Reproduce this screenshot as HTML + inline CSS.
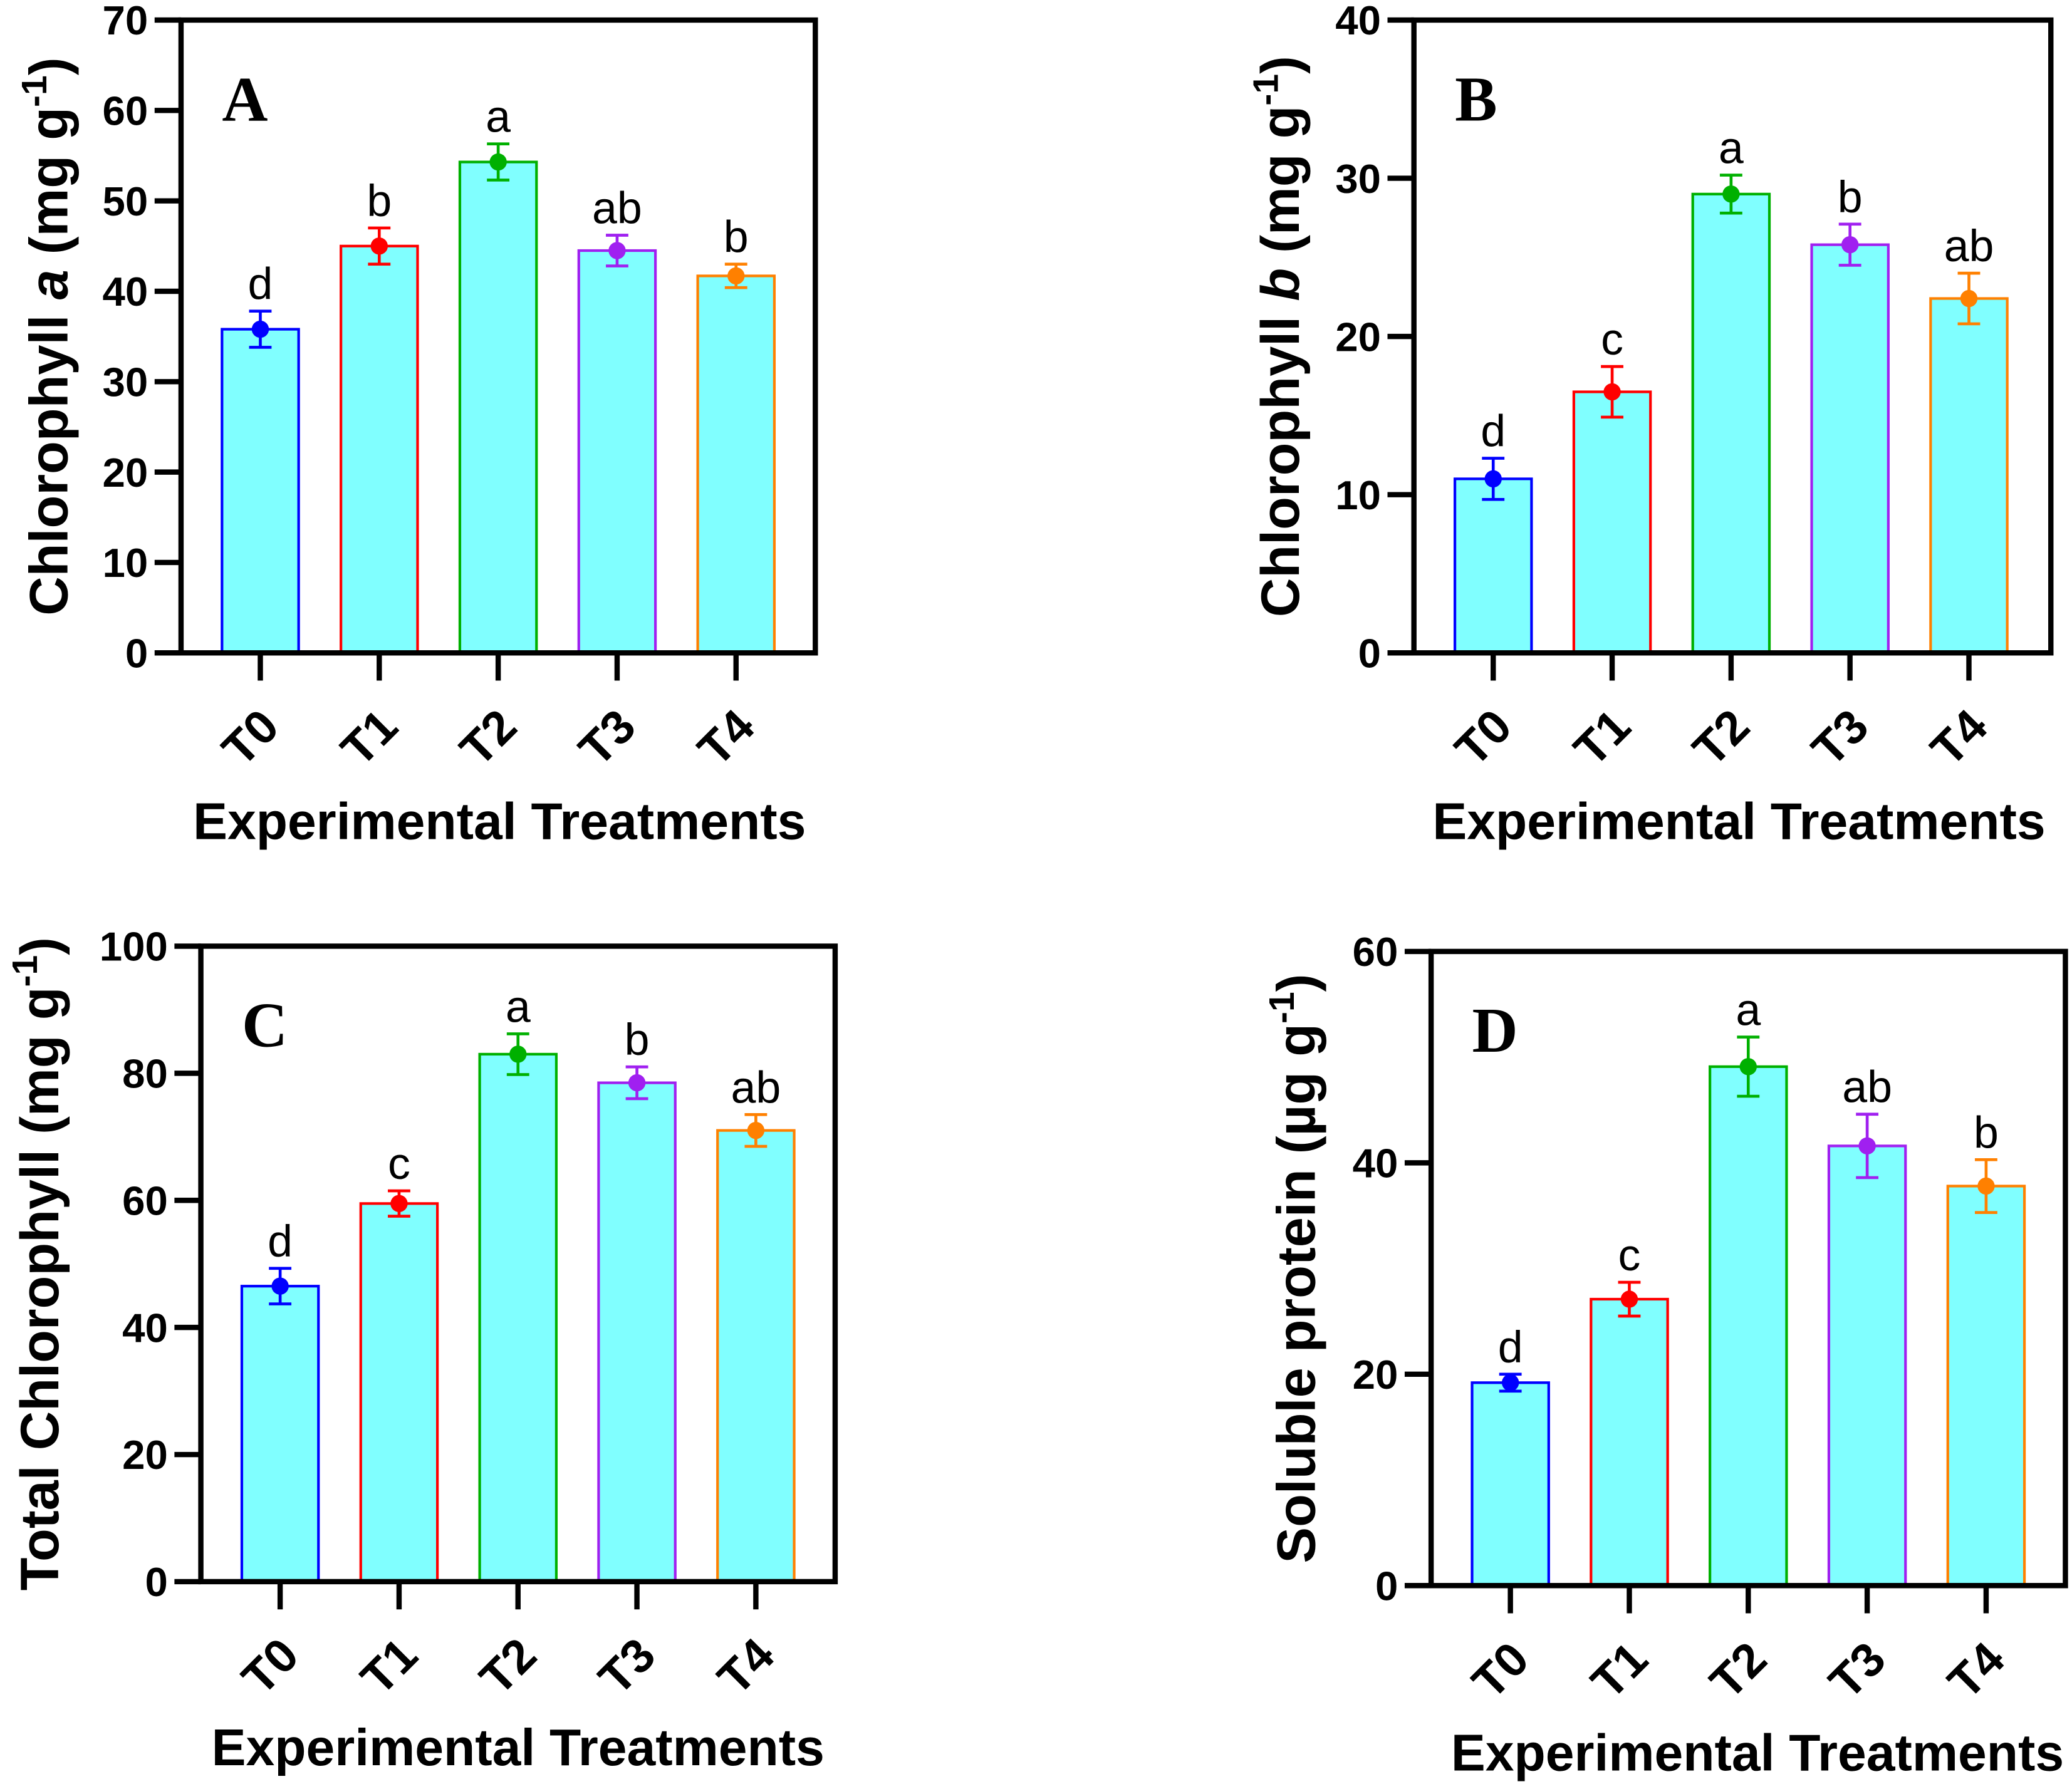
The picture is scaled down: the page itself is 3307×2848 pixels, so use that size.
<!DOCTYPE html>
<html><head><meta charset="utf-8"><style>
html,body{margin:0;padding:0;background:#fff}
svg{display:block}
text{font-family:"Liberation Sans",Arial,sans-serif}
</style></head><body>
<svg id="chart" width="3307" height="2848" viewBox="0 0 1568 1350" xmlns="http://www.w3.org/2000/svg"></svg>
<script>
const categories = ["T0","T1","T2","T3","T4"];
const colors = ["#0000ff","#ff0000","#00b000","#a020f0","#ff8000"];
const valuesA = [35.8,45.0,54.3,44.5,41.7];
const errorsA = [2.0,2.0,2.0,1.7,1.3];
const lettersA = ["d","b","a","ab","b"];
const ticksA = [0,10,20,30,40,50,60,70];
const valuesB = [11.0,16.5,29.0,25.8,22.4];
const errorsB = [1.3,1.6,1.2,1.3,1.6];
const lettersB = ["d","c","a","b","ab"];
const ticksB = [0,10,20,30,40];
const valuesC = [46.5,59.5,83.0,78.5,71.0];
const errorsC = [2.8,2.0,3.2,2.5,2.5];
const lettersC = ["d","c","a","b","ab"];
const ticksC = [0,20,40,60,80,100];
const valuesD = [19.2,27.1,49.1,41.6,37.8];
const errorsD = [0.8,1.6,2.8,3.0,2.5];
const lettersD = ["d","c","a","ab","b"];
const ticksD = [0,20,40,60];

const svg = document.getElementById('chart');
const NS = "http://www.w3.org/2000/svg";
function mk(tag, attrs, parent){const e=document.createElementNS(NS,tag);for(const k in attrs)e.setAttribute(k,attrs[k]);(parent||svg).appendChild(e);return e;}

const panels = [
 {id:"a",L:137,R:617,T:15,B:494,x0:197,vals:valuesA,errs:errorsA,lets:lettersA,ticks:ticksA,label:"A",ytitle:['Chlorophyll ',{i:'a'},' (mg g',{s:'-1'},')'],ytx:51,xtx:378,xty:635},
 {id:"b",L:1070,R:1552,T:15,B:494,x0:1130,vals:valuesB,errs:errorsB,lets:lettersB,ticks:ticksB,label:"B",ytitle:['Chlorophyll ',{i:'b'},' (mg g',{s:'-1'},')'],ytx:983,xtx:1316,xty:635},
 {id:"c",L:152,R:632,T:716,B:1197,x0:212,vals:valuesC,errs:errorsC,lets:lettersC,ticks:ticksC,label:"C",ytitle:['Total Chlorophyll (mg g',{s:'-1'},')'],ytx:44,xtx:392,xty:1336},
 {id:"d",L:1083,R:1563,T:720,B:1200,x0:1143,vals:valuesD,errs:errorsD,lets:lettersD,ticks:ticksD,label:"D",ytitle:['Soluble protein (µg g',{s:'-1'},')'],ytx:995,xtx:1330,xty:1340}
];
const step=90, bw=58;
panels.forEach(p=>{
  const g=mk('g',{});
  
  
  const maxV=p.ticks[p.ticks.length-1];
  const y=v=>p.B-(v/maxV)*(p.B-p.T);
  p.vals.forEach((v,i)=>{
    const cx=p.x0+i*step;
    const r=mk('rect',{x:cx-bw/2,y:y(v),width:bw,height:p.B-y(v),fill:'#80ffff',stroke:colors[i],'stroke-width':2},g);
    
    
    const e=p.errs[i];
    const eb=mk('path',{d:`M${cx},${y(v+e)}V${y(v-e)}M${cx-8.5},${y(v+e)}H${cx+8.5}M${cx-8.5},${y(v-e)}H${cx+8.5}`,stroke:colors[i],'stroke-width':2.2,fill:'none'},g);
    
    
    const pt=mk('circle',{cx:cx,cy:y(v),r:6.5,fill:colors[i]},g);
    
    
    const lt=mk('text',{x:cx,y:y(v+e)-9,'font-size':34,'text-anchor':'middle'},g);
    lt.textContent=p.lets[i];
    
    
    mk('line',{x1:cx,x2:cx,y1:p.B,y2:p.B+21,stroke:'#000','stroke-width':4},g);
    const tl=mk('text',{x:0,y:0,'font-size':36,'font-weight':'bold','text-anchor':'end',transform:`translate(${cx+16},${p.B+58}) rotate(-45)`},g);
    tl.textContent=categories[i];
    
    
  });
  const frame=mk('rect',{x:p.L,y:p.T,width:p.R-p.L,height:p.B-p.T,fill:'none',stroke:'#000','stroke-width':4},g);
  
  
  p.ticks.forEach(t=>{
    mk('line',{x1:p.L-20,x2:p.L,y1:y(t),y2:y(t),stroke:'#000','stroke-width':4},g);
    const tt=mk('text',{x:p.L-25,y:y(t)+11,'font-size':31,'font-weight':'bold','text-anchor':'end'},g);
    tt.textContent=t;
    
    
  });
  const pl=mk('text',{x:p.L+31,y:p.T+76,'font-size':48,'font-weight':'bold',style:'font-family:"Liberation Serif",serif'},g);
  pl.textContent=p.label;
  
  
  const xt=mk('text',{x:p.xtx,y:p.xty,'font-size':39,'font-weight':'bold','text-anchor':'middle'},g);
  xt.textContent='Experimental Treatments';
  
  
  const yt=mk('text',{x:0,y:0,'font-size':41,'font-weight':'bold','text-anchor':'middle',transform:`translate(${p.ytx},${(p.T+p.B)/2}) rotate(-90)`},g);
  
  
  let afterSup=false;
  p.ytitle.forEach(part=>{
    const ts=document.createElementNS(NS,'tspan');
    if(typeof part==='string'){ts.textContent=part;if(afterSup){ts.setAttribute('dy','16');afterSup=false;}}
    else if(part.i){ts.textContent=part.i;ts.setAttribute('font-style','italic');}
    else {ts.textContent=part.s;ts.setAttribute('font-size','27');ts.setAttribute('dy','-16');afterSup=true;}
    yt.appendChild(ts);
  });
});
</script>
</body></html>
